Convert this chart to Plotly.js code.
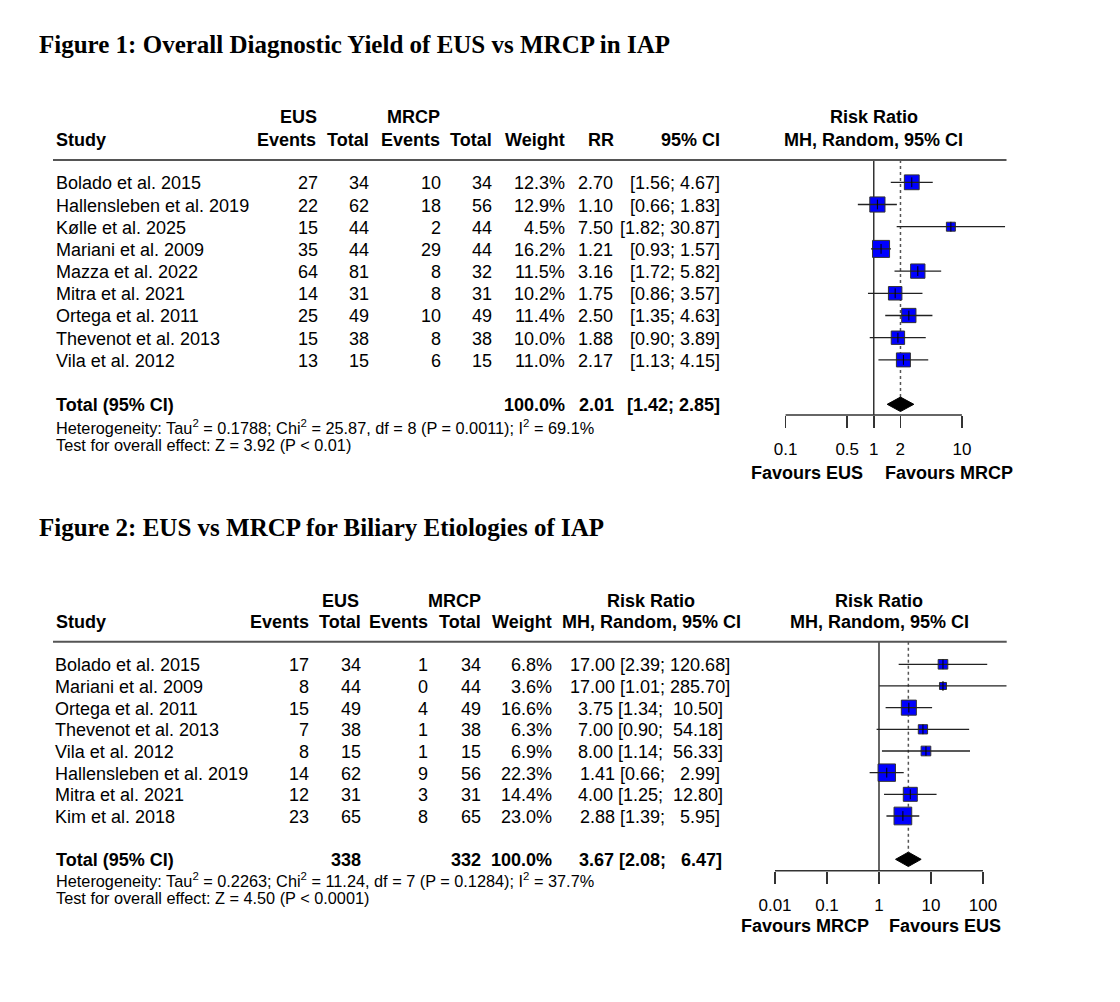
<!DOCTYPE html>
<html><head><meta charset="utf-8">
<script src="https://cdn.plot.ly/plotly-3.0.1.min.js"></script>
<style>html,body{margin:0;padding:0;background:#fff;overflow:hidden}#chart{width:1120px;height:1002px}</style>
</head><body><div id="chart"></div>
<script>
// ---------- Figure 1 data ----------
const studies1 = ["Bolado et al. 2015","Hallensleben et al. 2019","Kølle et al. 2025","Mariani et al. 2009","Mazza et al. 2022","Mitra et al. 2021","Ortega et al. 2011","Thevenot et al. 2013","Vila et al. 2012"];
const eusEvents1 = [27,22,15,35,64,14,25,15,13];
const eusTotal1  = [34,62,44,44,81,31,49,38,15];
const mrcpEvents1 = [10,18,2,29,8,8,10,8,6];
const mrcpTotal1  = [34,56,44,44,32,31,49,38,15];
const weight1 = [12.3,12.9,4.5,16.2,11.5,10.2,11.4,10.0,11.0];
const rr1 = [2.70,1.10,7.50,1.21,3.16,1.75,2.50,1.88,2.17];
const lo1 = [1.56,0.66,1.82,0.93,1.72,0.86,1.35,0.90,1.13];
const hi1 = [4.67,1.83,30.87,1.57,5.82,3.57,4.63,3.89,4.15];
const pooled1 = {weight:100.0, rr:2.01, lo:1.42, hi:2.85};
const het1 = "Heterogeneity: Tau<sup>2</sup> = 0.1788; Chi<sup>2</sup> = 25.87, df = 8 (P = 0.0011); I<sup>2</sup> = 69.1%";
const test1 = "Test for overall effect: Z = 3.92 (P < 0.01)";
const ticks1 = [0.1,0.5,1,2,10];
const tickLabels1 = ["0.1","0.5","1","2","10"];

// ---------- Figure 2 data ----------
const studies2 = ["Bolado et al. 2015","Mariani et al. 2009","Ortega et al. 2011","Thevenot et al. 2013","Vila et al. 2012","Hallensleben et al. 2019","Mitra et al. 2021","Kim et al. 2018"];
const eusEvents2 = [17,8,15,7,8,14,12,23];
const eusTotal2  = [34,44,49,38,15,62,31,65];
const mrcpEvents2 = [1,0,4,1,1,9,3,8];
const mrcpTotal2  = [34,44,49,38,15,56,31,65];
const weight2 = [6.8,3.6,16.6,6.3,6.9,22.3,14.4,23.0];
const rr2 = [17.00,17.00,3.75,7.00,8.00,1.41,4.00,2.88];
const lo2 = [2.39,1.01,1.34,0.90,1.14,0.66,1.25,1.39];
const hi2 = [120.68,285.70,10.50,54.18,56.33,2.99,12.80,5.95];
const pooled2 = {eusTotal:338, mrcpTotal:332, weight:100.0, rr:3.67, lo:2.08, hi:6.47};
const het2 = "Heterogeneity: Tau<sup>2</sup> = 0.2263; Chi<sup>2</sup> = 11.24, df = 7 (P = 0.1284); I<sup>2</sup> = 37.7%";
const test2 = "Test for overall effect: Z = 4.50 (P < 0.0001)";
const ticks2 = [0.01,0.1,1,10,100];
const tickLabels2 = ["0.01","0.1","1","10","100"];

// ---------- helpers ----------
const W = 1120, H = 1002;
const px = x => x / W, py = y => 1 - y / H;
const FONT = 'Liberation Sans, Arial, Helvetica, sans-serif';
const SERIF = 'Liberation Serif, Times New Roman, serif';
const NB = '\u00a0';
const annotations = [], shapes = [], traces = [];

function txt(x, y, text, anchor, size, family) {
  annotations.push({xref:'paper', yref:'paper', x:px(x), y:py(y), text:text, showarrow:false,
    xanchor:anchor||'left', yanchor:'middle', borderpad:0, borderwidth:0,
    font:{family:family||FONT, size:size||18, color:'#000'}});
}
const b = s => '<b>' + s + '</b>';
const f2 = v => v.toFixed(2);
const pct = v => v.toFixed(1) + '%';

// ---------- Figure 1 layout geometry ----------
const g1 = {row0:182.3, pitch:22.2, rule:160, axis:415, top:150, bottom:440, xl:741, xr:1006.5, half:1.506};
const rowPx1 = i => g1.row0 + g1.pitch * i;
const rowVal1 = p => (p - g1.row0) / g1.pitch;
const n1 = studies1.length, tot1 = n1 + 1;

txt(39, 45, b("Figure 1: Overall Diagnostic Yield of EUS vs MRCP in IAP"), 'left', 25, SERIF);
// headers
txt(298, 116.7, b('EUS'), 'center');
txt(413, 116.7, b('MRCP'), 'center');
txt(873.5, 116.7, b('Risk Ratio'), 'center');
txt(56, 140, b('Study'));
txt(316, 140, b('Events'), 'right');
txt(368.5, 140, b('Total'), 'right');
txt(440, 140, b('Events'), 'right');
txt(491.5, 140, b('Total'), 'right');
txt(565, 140, b('Weight'), 'right');
txt(613.5, 140, b('RR'), 'right');
txt(720, 140, b('95% CI'), 'right');
txt(873.5, 140, b('MH, Random, 95% CI'), 'center');
shapes.push({type:'line', xref:'paper', yref:'paper', x0:px(53), x1:px(1006.5), y0:py(g1.rule), y1:py(g1.rule), line:{color:'#555', width:2}});

studies1.forEach((s, i) => {
  const y = rowPx1(i) + 1;
  txt(56, y, s);
  txt(318, y, String(eusEvents1[i]), 'right');
  txt(369, y, String(eusTotal1[i]), 'right');
  txt(440.5, y, String(mrcpEvents1[i]), 'right');
  txt(492, y, String(mrcpTotal1[i]), 'right');
  txt(565, y, pct(weight1[i]), 'right');
  txt(612.5, y, f2(rr1[i]), 'right');
  txt(719.5, y, '[' + f2(lo1[i]) + ';' + NB + f2(hi1[i]) + ']', 'right');
});
{
  const y = rowPx1(tot1) + 1;
  txt(56, y, b('Total (95% CI)'));
  txt(565, y, b(pct(pooled1.weight)), 'right');
  txt(614, y, b(f2(pooled1.rr)), 'right');
  txt(720, y, b('[' + f2(pooled1.lo) + ';' + NB + f2(pooled1.hi) + ']'), 'right');
  txt(56, 426.5, het1, 'left', 16.3);
  txt(56, 444.5, test1, 'left', 16.3);
}
txt(806.7, 472.7, b('Favours EUS'), 'center');
txt(949, 472.7, b('Favours MRCP'), 'center');

// ---------- Figure 2 layout geometry ----------
const g2 = {row0:664.3, pitch:21.67, rule:641.7, axis:870.7, top:630, bottom:890, xl:751.3, xr:1006.7, half:2.456};
const rowPx2 = i => g2.row0 + g2.pitch * i;
const rowVal2 = p => (p - g2.row0) / g2.pitch;
const n2 = studies2.length, tot2 = n2 + 1;

txt(39, 527, b("Figure 2: EUS vs MRCP for Biliary Etiologies of IAP"), 'left', 25, SERIF);
txt(340.6, 600.7, b('EUS'), 'center');
txt(454, 600.7, b('MRCP'), 'center');
txt(651, 600.7, b('Risk Ratio'), 'center');
txt(879.3, 600.7, b('Risk Ratio'), 'center');
txt(56, 621.7, b('Study'));
txt(308.6, 621.7, b('Events'), 'right');
txt(361.4, 621.7, b('Total'), 'right');
txt(428, 621.7, b('Events'), 'right');
txt(480.8, 621.7, b('Total'), 'right');
txt(552, 621.7, b('Weight'), 'right');
txt(651, 621.7, b('MH, Random, 95% CI'), 'center');
txt(879.3, 621.7, b('MH, Random, 95% CI'), 'center');
shapes.push({type:'line', xref:'paper', yref:'paper', x0:px(53), x1:px(1006.7), y0:py(g2.rule), y1:py(g2.rule), line:{color:'#555', width:2}});

const rrci2 = (r, l, h) => { const hs = f2(h); return f2(r) + NB + '[' + f2(l) + ';' + NB.repeat(1 + 6 - hs.length) + hs + ']'; };
studies2.forEach((s, i) => {
  const y = rowPx2(i) + 1;
  txt(55, y, s);
  txt(309, y, String(eusEvents2[i]), 'right');
  txt(361.3, y, String(eusTotal2[i]), 'right');
  txt(428, y, String(mrcpEvents2[i]), 'right');
  txt(480.5, y, String(mrcpTotal2[i]), 'right');
  txt(552, y, pct(weight2[i]), 'right');
  txt(650, y, rrci2(rr2[i], lo2[i], hi2[i]), 'center');
});
{
  const y = rowPx2(tot2) + 1;
  txt(56, y, b('Total (95% CI)'));
  txt(361.3, y, b(String(pooled2.eusTotal)), 'right');
  txt(480.5, y, b(String(pooled2.mrcpTotal)), 'right');
  txt(552, y, b(pct(pooled2.weight)), 'right');
  txt(650, y, b(rrci2(pooled2.rr, pooled2.lo, pooled2.hi)), 'center');
  txt(56, 879.5, het2, 'left', 16.3);
  txt(56, 897.5, test2, 'left', 16.3);
}
txt(805, 926, b('Favours MRCP'), 'center');
txt(945, 926, b('Favours EUS'), 'center');

// ---------- forest traces ----------
function forest(xa, ya, rr, lo, hi, w, maxSide, pooled, nTot, rowVal, g, ticks) {
  const idx = rr.map((_, i) => i);
  const wmax = Math.max.apply(null, w);
  const dHalf = 7.2 / g.pitch;
  const common = {xaxis:xa, yaxis:ya, hoverinfo:'skip', showlegend:false};
  // null line at 1
  traces.push(Object.assign({type:'scatter', mode:'lines', x:[1,1], y:[rowVal(g.rule), rowVal(g.axis)], line:{color:'#333', width:1.5}}, common));
  // dotted pooled line
  traces.push(Object.assign({type:'scatter', mode:'lines', x:[pooled.rr, pooled.rr], y:[rowVal(g.rule), nTot - dHalf], line:{color:'#555', width:1.5, dash:'dot'}}, common));
  // squares
  traces.push(Object.assign({type:'scatter', mode:'markers', x:rr, y:idx,
    marker:{symbol:'square', opacity:1, size:w.map(v => maxSide * Math.sqrt(v / wmax)), color:'#0000FF', line:{color:'#333', width:1}}}, common));
  // CI lines
  const cx = [], cy = [];
  idx.forEach(i => { cx.push(lo[i], hi[i], null); cy.push(i, i, null); });
  traces.push(Object.assign({type:'scatter', mode:'lines', x:cx, y:cy, line:{color:'#222', width:1.3}}, common));
  // estimate ticks
  traces.push(Object.assign({type:'scatter', mode:'markers', x:rr, y:idx,
    marker:{symbol:'line-ns-open', opacity:1, size:7, color:'#000', line:{color:'#000', width:1}}}, common));
  // diamond
  traces.push(Object.assign({type:'scatter', mode:'lines', fill:'toself', fillcolor:'#000',
    x:[pooled.lo, pooled.rr, pooled.hi, pooled.rr, pooled.lo], y:[nTot, nTot - dHalf, nTot, nTot + dHalf, nTot],
    line:{color:'#000', width:1}}, common));
  // axis baseline
  traces.push(Object.assign({type:'scatter', mode:'lines', x:[Math.min.apply(null, ticks), Math.max.apply(null, ticks)],
    y:[rowVal(g.axis), rowVal(g.axis)], line:{color:'#333', width:1.5}}, common));
}
forest('x', 'y', rr1, lo1, hi1, weight1, 17, pooled1, tot1, rowVal1, g1, ticks1);
forest('x2', 'y2', rr2, lo2, hi2, weight2, 17.7, pooled2, tot2, rowVal2, g2, ticks2);

function xax(g, tv, tt) {
  return {domain:[px(g.xl), px(g.xr)], type:'log', range:[-g.half, g.half], anchor:'free', position:py(g.axis), side:'bottom',
    tickmode:'array', tickvals:tv, ticktext:tt, ticks:'outside', ticklen:12, tickwidth:1.5, tickcolor:'#333',
    showline:false, showgrid:false, zeroline:false, fixedrange:true, ticklabelstandoff:7,
    tickfont:{family:FONT, size:17, color:'#000'}};
}
function yax(g) {
  return {domain:[py(g.bottom), py(g.top)], range:[(g.bottom - g.row0) / g.pitch, (g.top - g.row0) / g.pitch],
    visible:false, showgrid:false, zeroline:false, fixedrange:true};
}
const layout = {
  width:W, height:H, margin:{l:0, r:0, t:0, b:0}, paper_bgcolor:'#fff', plot_bgcolor:'rgba(0,0,0,0)',
  showlegend:false, annotations:annotations, shapes:shapes,
  xaxis:xax(g1, ticks1, tickLabels1), yaxis:yax(g1),
  xaxis2:xax(g2, ticks2, tickLabels2), yaxis2:yax(g2)
};
Plotly.newPlot('chart', traces, layout, {staticPlot:true, displayModeBar:false});
</script></body></html>
